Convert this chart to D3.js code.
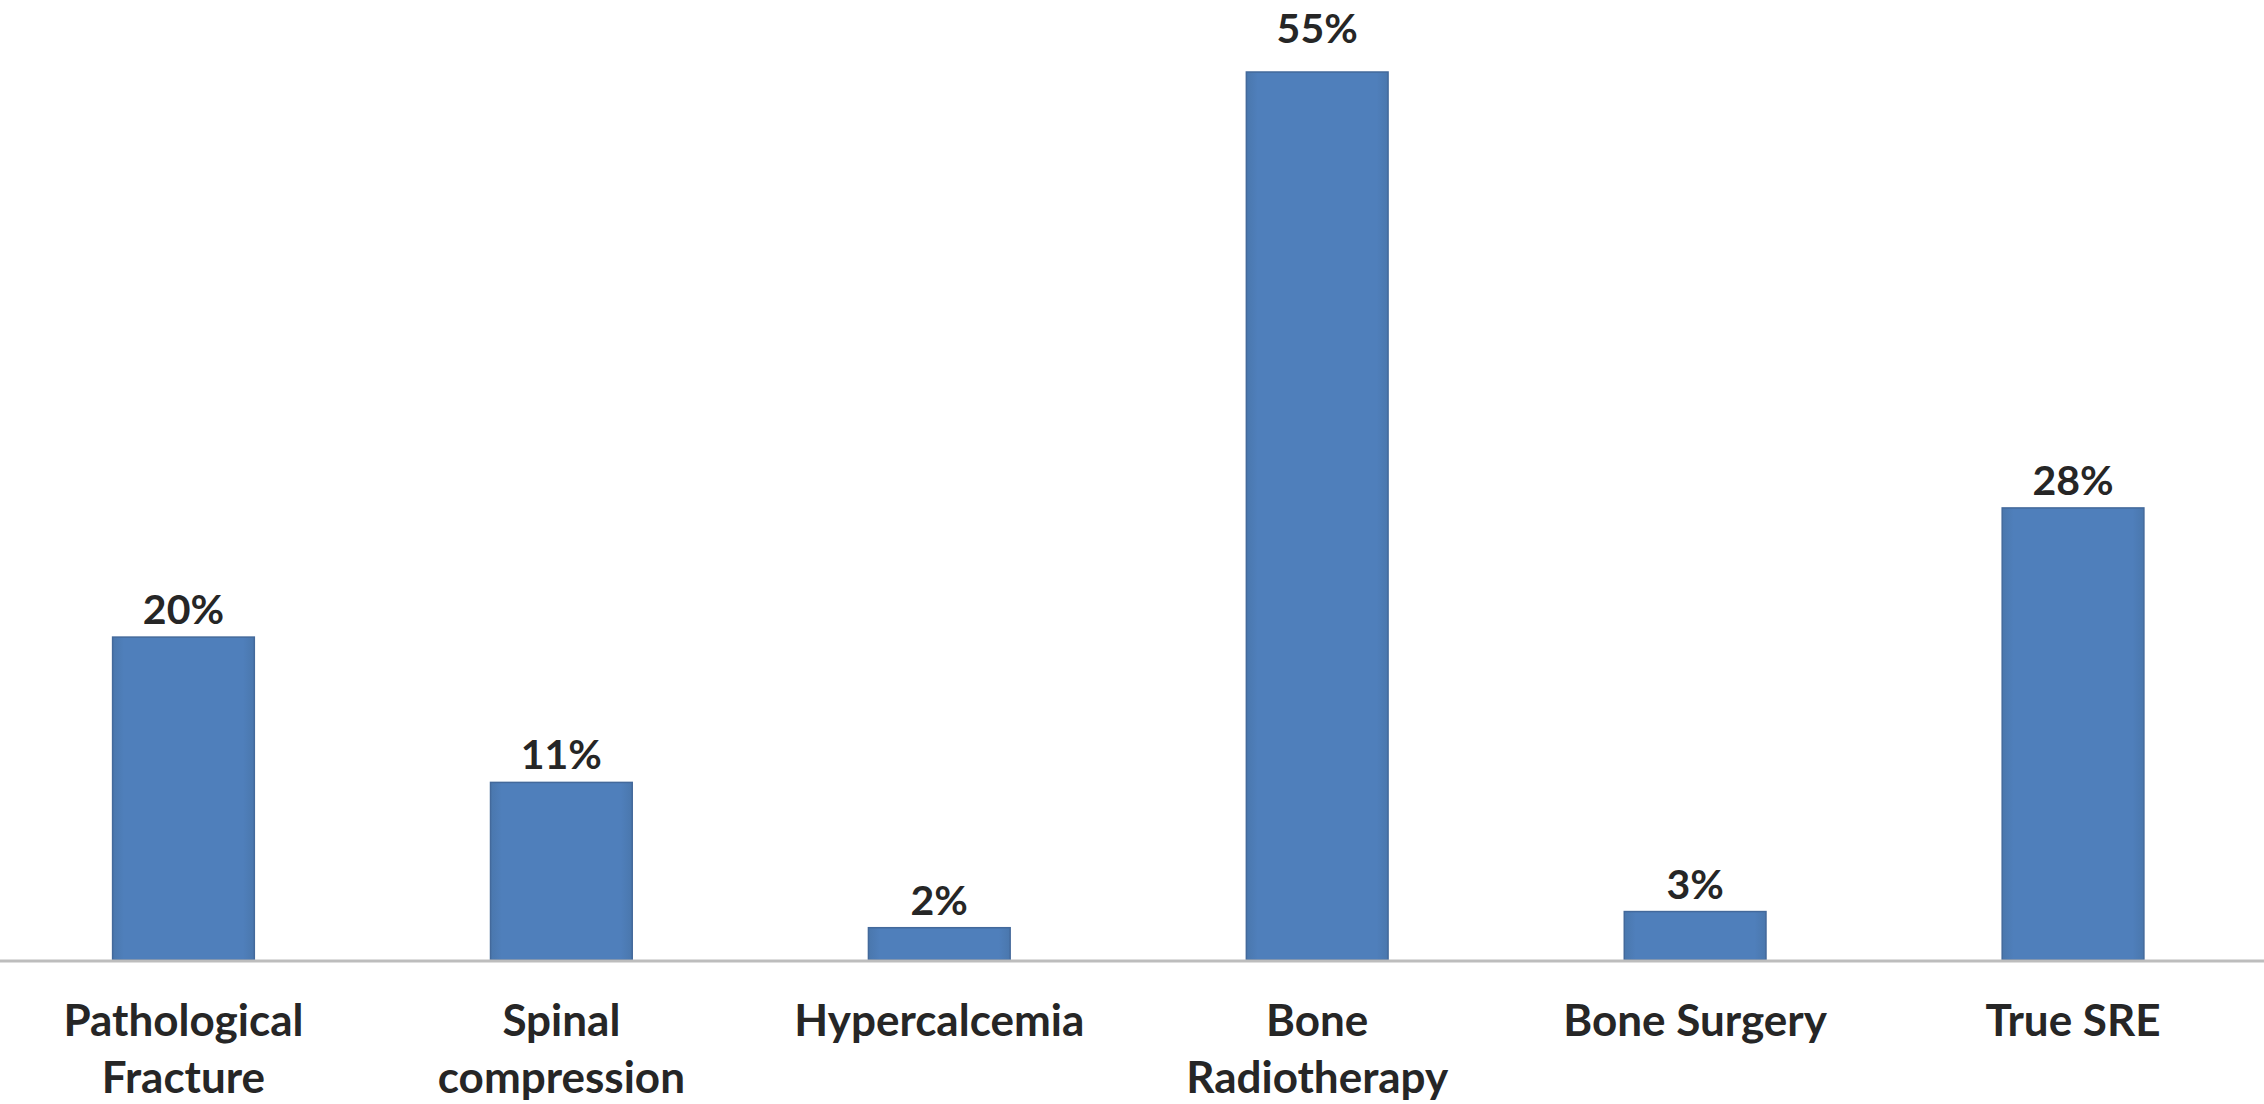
<!DOCTYPE html>
<html><head><meta charset="utf-8">
<script src="https://cdn.jsdelivr.net/npm/d3@7"></script>
<style>html,body{margin:0;padding:0;background:#fff;}svg{display:block;}</style>
</head><body>
<svg id="chart" width="2264" height="1104"></svg>
<script>
const categories = ["Pathological Fracture", "Spinal compression", "Hypercalcemia", "Bone Radiotherapy", "Bone Surgery", "True SRE"];
const categoryLines = [["Pathological", "Fracture"], ["Spinal", "compression"], ["Hypercalcemia"], ["Bone", "Radiotherapy"], ["Bone Surgery"], ["True SRE"]];
const values = [20, 11, 2, 55, 3, 28];
const valueLabels = ["20%", "11%", "2%", "55%", "3%", "28%"];

const svg = d3.select("#chart");
const baseline = 960;
const x = d3.scaleBand().domain(categories).range([-5.5, 2262]).paddingInner(0.625).paddingOuter(0.3125);
const y = d3.scaleLinear().domain([0, 55]).range([baseline, 72]);
const maxVal = d3.max(values);

const defs = svg.append("defs");
const grad = defs.append("linearGradient").attr("id", "barGrad").attr("x1", 0).attr("x2", 1).attr("y1", 0).attr("y2", 0);
grad.append("stop").attr("offset", "0%").attr("stop-color", "#4a77ad");
grad.append("stop").attr("offset", "8%").attr("stop-color", "#4f7fbb");
grad.append("stop").attr("offset", "92%").attr("stop-color", "#4f7fbb");
grad.append("stop").attr("offset", "100%").attr("stop-color", "#4a77ad");

svg.append("g").selectAll("rect").data(values).join("rect")
  .attr("x", (d, i) => x(categories[i]))
  .attr("width", x.bandwidth())
  .attr("y", d => y(d))
  .attr("height", d => baseline - y(d))
  .attr("fill", "url(#barGrad)")
  .attr("stroke", "#43699b")
  .attr("stroke-width", 1.5);

svg.append("line").attr("x1", 0).attr("x2", 2264).attr("y1", baseline + 1).attr("y2", baseline + 1)
  .attr("stroke", "#bdbdbd").attr("stroke-width", 3);

svg.append("g").selectAll("text").data(values).join("text")
  .attr("x", (d, i) => x(categories[i]) + x.bandwidth() / 2)
  .attr("y", d => y(d) - (d === maxVal ? 29 : 13))
  .attr("text-anchor", "middle")
  .attr("font-family", "Lato, 'Open Sans', sans-serif")
  .attr("font-weight", "bold")
  .attr("font-size", 41)
  .attr("fill", "#262626")
  .text((d, i) => valueLabels[i]);

const cat = svg.append("g").selectAll("text").data(categoryLines).join("text")
  .attr("x", (d, i) => x(categories[i]) + x.bandwidth() / 2)
  .attr("y", 1036)
  .attr("text-anchor", "middle")
  .attr("font-family", "Lato, 'Open Sans', sans-serif")
  .attr("font-weight", "bold")
  .attr("font-size", 44)
  .attr("fill", "#262626");
cat.selectAll("tspan").data((d, i) => d.map(t => ({t, i}))).join("tspan")
  .attr("x", d => x(categories[d.i]) + x.bandwidth() / 2)
  .attr("dy", (d, j) => j === 0 ? 0 : 57)
  .text(d => d.t);
</script>
</body></html>
